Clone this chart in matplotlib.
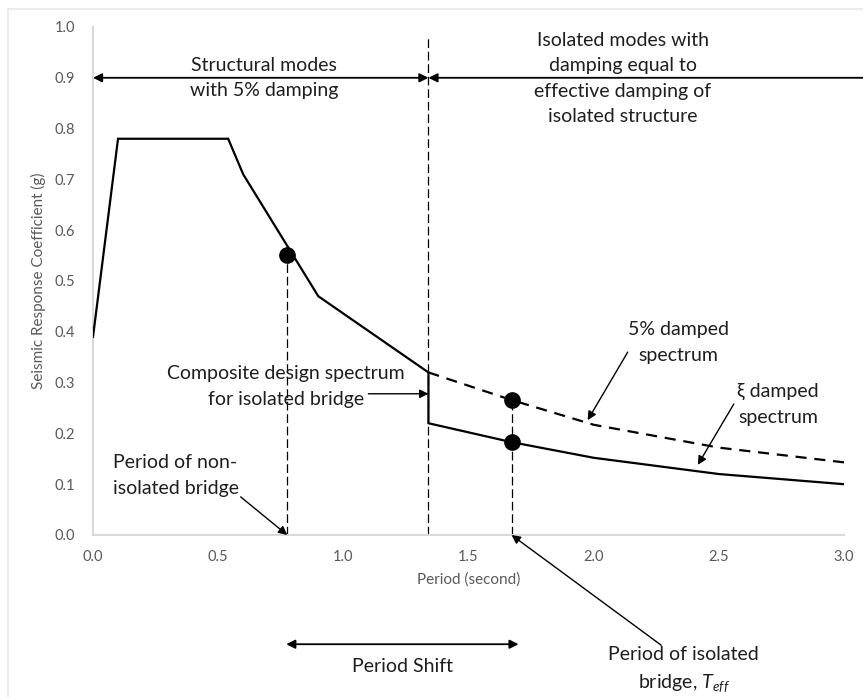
import matplotlib
matplotlib.use("Agg")
import matplotlib.pyplot as plt
from matplotlib.lines import Line2D

# ---- data ----
T_design = [0.0, 0.1, 0.54, 0.6, 0.9, 1.34, 1.34, 1.67, 2.0, 2.5, 3.0]
Sa_design = [0.39, 0.78, 0.78, 0.71, 0.47, 0.32, 0.22, 0.183, 0.152, 0.12, 0.10]

T_5pct = [1.34, 1.67, 2.0, 2.5, 3.0]
Sa_5pct = [0.32, 0.266, 0.217, 0.172, 0.143]

T_points = [0.776, 1.672, 1.672]
Sa_points = [0.551, 0.266, 0.183]

T_split = 1.34          # boundary between structural and isolated modes
T_nonisolated = 0.776
T_isolated = 1.672

x_ticks = [0.0, 0.5, 1.0, 1.5, 2.0, 2.5, 3.0]
y_ticks = [0.0, 0.1, 0.2, 0.3, 0.4, 0.5, 0.6, 0.7, 0.8, 0.9, 1.0]

plt.rcParams['font.family'] = ['Lato', 'DejaVu Sans']
plt.rcParams['mathtext.fontset'] = 'custom'
plt.rcParams['mathtext.rm'] = 'Lato'
plt.rcParams['mathtext.it'] = 'Lato:italic'

TXT = '#1e1e1e'
GRAY = '#595959'
AX = '#d9d9d9'
FS = 14
LS = 1.6

fig = plt.figure(figsize=(8.63, 6.97), dpi=100)
ax = fig.add_axes([93/863, 1-535/697, 751/863, 508/697])

# outer frame (top & left visible)
fig.add_artist(Line2D([8/863, 1.0], [1-9/697, 1-9/697], color='#ececec', lw=1.5, transform=fig.transFigure))
fig.add_artist(Line2D([8/863, 8/863], [0, 1-9/697], color='#ececec', lw=1.5, transform=fig.transFigure))

# curves
ax.plot(T_design, Sa_design, color='black', lw=1.6, solid_joinstyle='miter', zorder=3)
ax.plot(T_5pct, Sa_5pct, color='black', lw=1.6, dashes=(5, 3.5), zorder=3)
ax.plot(T_points, Sa_points, 'o', color='black', ms=11, zorder=4)

# vertical dashed guides
ax.plot([T_split, T_split], [0, 0.978], color='black', lw=0.9, dashes=(7, 3), clip_on=False)
ax.plot([T_nonisolated, T_nonisolated], [0, Sa_points[0]], color='black', lw=0.9, dashes=(7, 3))
ax.plot([T_isolated, T_isolated], [0, Sa_points[1]], color='black', lw=0.9, dashes=(7, 3))

ax.set_xlim(0, 3.0)
ax.set_ylim(0, 1.0)
ax.set_xticks(x_ticks)
ax.set_yticks(y_ticks)
ax.set_xticklabels([f'{v:.1f}' for v in x_ticks])
ax.set_yticklabels([f'{v:.1f}' for v in y_ticks])
ax.tick_params(length=0, labelsize=10.5, colors=GRAY)
ax.tick_params(axis='y', pad=13)
ax.tick_params(axis='x', pad=11)
for s in ['top', 'right']:
    ax.spines[s].set_visible(False)
for s in ['left', 'bottom']:
    ax.spines[s].set_color(AX)
    ax.spines[s].set_linewidth(1.5)

ax.set_xlabel('Period (second)', fontsize=11, color=GRAY)
ax.xaxis.set_label_coords(0.5, -0.0886)
ax.xaxis.label.set_va('center')
ax.set_ylabel('Seismic Response Coefficient (g)', fontsize=11, color=GRAY)
ax.yaxis.set_label_coords(-0.073, 0.5)
ax.yaxis.label.set_va('center')

ap = dict(arrowstyle='-|>', color='black', lw=1.0, mutation_scale=13, shrinkA=0, shrinkB=0)
ap2 = dict(arrowstyle='<|-|>', color='black', lw=1.3, mutation_scale=13, shrinkA=0, shrinkB=0)

# top region arrows
ax.annotate('', xy=(0.0, 0.9), xytext=(T_split, 0.9), arrowprops=ap2, annotation_clip=False)
ax.annotate('', xy=(T_split, 0.9), xytext=(3.15, 0.9),
            arrowprops=dict(arrowstyle='-|>', color='black', lw=1.3, mutation_scale=13, shrinkA=0, shrinkB=0),
            annotation_clip=False)
ax.text(0.684, 0.9, 'Structural modes\nwith 5% damping', ha='center', va='center',
        fontsize=FS, color=TXT, linespacing=LS)
ax.text(2.116, 0.899, 'Isolated modes with\ndamping equal to\neffective damping of\nisolated structure',
        ha='center', va='center', fontsize=FS, color=TXT, linespacing=LS)

# composite design spectrum
ax.text(0.77, 0.292, 'Composite design spectrum\nfor isolated bridge', ha='center', va='center',
        fontsize=FS, color=TXT, linespacing=LS)
ax.annotate('', xy=(T_split, 0.278), xytext=(1.10, 0.278), arrowprops=ap)

# period of non-isolated bridge
ax.text(0.33, 0.117, 'Period of non-\nisolated bridge', ha='center', va='center',
        fontsize=FS, color=TXT, linespacing=LS)
ax.annotate('', xy=(T_nonisolated, 0.0), xytext=(0.59, 0.075), arrowprops=ap, annotation_clip=False)

# 5% damped spectrum
ax.text(2.34, 0.379, '5% damped\nspectrum', ha='center', va='center',
        fontsize=FS, color=TXT, linespacing=LS)
ax.annotate('', xy=(1.976, 0.226), xytext=(2.136, 0.360), arrowprops=ap)

# xi damped spectrum
ax.text(2.736, 0.257, 'ξ damped\nspectrum', ha='center', va='center',
        fontsize=FS, color=TXT, linespacing=LS)
ax.annotate('', xy=(2.416, 0.138), xytext=(2.56, 0.258), arrowprops=ap)

# period shift
ax.annotate('', xy=(0.772, -0.215), xytext=(1.70, -0.215), arrowprops=ap2, annotation_clip=False)
ax.text(1.236, -0.258, 'Period Shift', ha='center', va='center', fontsize=FS, color=TXT)

# period of isolated bridge
ax.annotate('', xy=(T_isolated, 0.0), xytext=(2.27, -0.217), arrowprops=ap, annotation_clip=False)
ax.text(2.36, -0.265, 'Period of isolated\nbridge, $T_{eff}$', ha='center', va='center',
        fontsize=FS, color=TXT, linespacing=LS)

fig.savefig('out.png', dpi=100)
